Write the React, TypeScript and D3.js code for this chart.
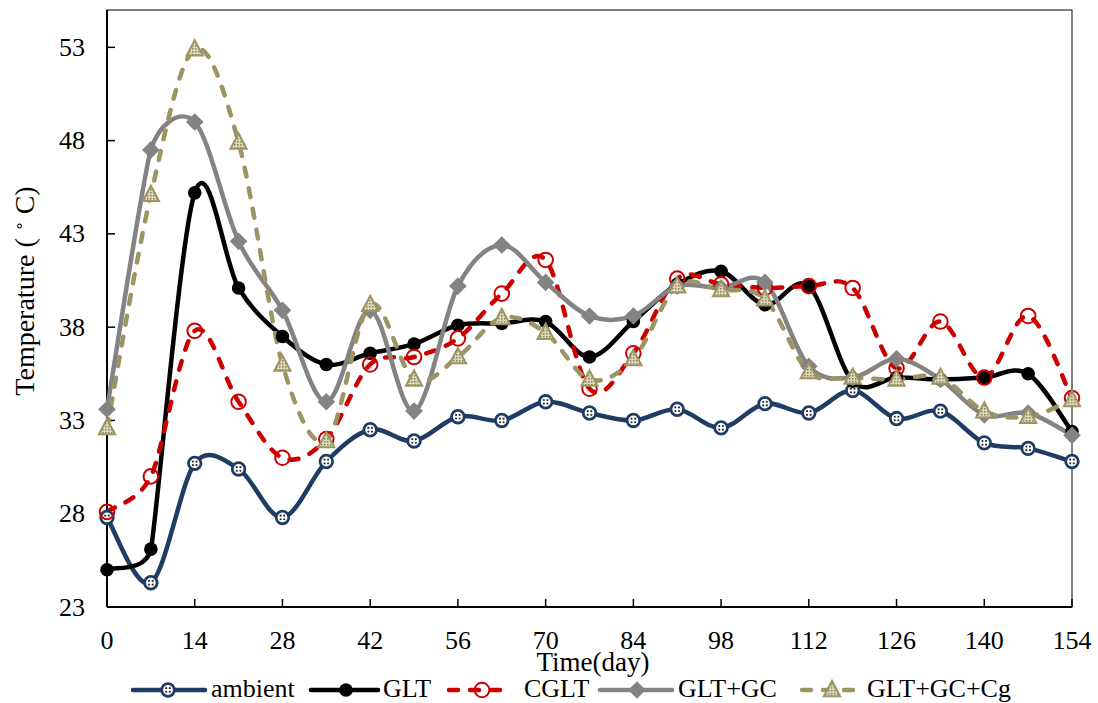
import React from "react";
import * as d3 from "d3";

// Sampling days (weekly)
const days = [0, 7, 14, 21, 28, 35, 42, 49, 56, 63, 70, 77, 84, 91, 98, 105, 112, 119, 126, 133, 140, 147, 154];

const ambient = [27.8, 24.3, 30.7, 30.4, 27.8, 30.8, 32.5, 31.9, 33.2, 33.0, 34.0, 33.4, 33.0, 33.6, 32.6, 33.9, 33.4, 34.6, 33.1, 33.5, 31.8, 31.5, 30.8];
const glt = [25.0, 26.1, 45.2, 40.1, 37.5, 36.0, 36.6, 37.1, 38.1, 38.2, 38.3, 36.4, 38.3, 40.3, 41.0, 39.2, 40.2, 35.1, 35.3, 35.2, 35.3, 35.5, 32.4];
const cglt = [28.1, 30.0, 37.8, 34.0, 31.0, 32.0, 36.0, 36.4, 37.4, 39.8, 41.6, 34.7, 36.6, 40.6, 40.3, 40.1, 40.2, 40.1, 35.8, 38.3, 35.3, 38.6, 34.2];
const gltGc = [33.6, 47.5, 49.0, 42.6, 38.9, 34.0, 38.9, 33.5, 40.2, 42.4, 40.4, 38.6, 38.6, 40.2, 40.1, 40.4, 35.9, 35.3, 36.3, 35.2, 33.3, 33.4, 32.2];
const gltGcCg = [32.6, 45.1, 52.9, 47.9, 36.0, 31.9, 39.2, 35.2, 36.4, 38.5, 37.7, 35.2, 36.3, 40.2, 40.0, 39.5, 35.6, 35.3, 35.2, 35.3, 33.5, 33.2, 34.1];

const xTicks = [0, 14, 28, 42, 56, 70, 84, 98, 112, 126, 140, 154];
const yTicks = [23, 28, 33, 38, 43, 48, 53];

const seriesNames = ["ambient", "GLT", "CGLT", "GLT+GC", "GLT+GC+Cg"];

type Marker = "dotted" | "disc" | "ring" | "diamond" | "triangle";
interface Series {
  name: string;
  values: number[];
  color: string;
  dashed: boolean;
  marker: Marker;
}

const NAVY = "#1f3d64";
const RED = "#cc0000";
const GRAY = "#838383";
const OLIVE = "#9d9463";
const DASH = "9 12";

const series: Series[] = [
  { name: seriesNames[0], values: ambient, color: NAVY, dashed: false, marker: "dotted" },
  { name: seriesNames[1], values: glt, color: "#000000", dashed: false, marker: "disc" },
  { name: seriesNames[2], values: cglt, color: RED, dashed: true, marker: "ring" },
  { name: seriesNames[3], values: gltGc, color: GRAY, dashed: false, marker: "diamond" },
  { name: seriesNames[4], values: gltGcCg, color: OLIVE, dashed: true, marker: "triangle" },
];

const W = 1098;
const H = 703;
const left = 107;
const right = 1072;
const top = 10;
const bottom = 607;

const x = d3.scaleLinear().domain([0, 154]).range([left, right]);
const y = d3.scaleLinear().domain([23, 55]).range([bottom, top]);

const FONT = '"Liberation Serif", "Times New Roman", Times, serif';
const textStyle: React.CSSProperties = { fontFamily: FONT };

// Smoothed line: cubic Bezier segments whose tangent at each point follows
// (next - previous) / 6, with the handle length capped at half of the
// shorter neighbouring segment so short segments do not overshoot.
function smoothPath(values: number[]): string {
  const pts = values.map((v, i) => [x(days[i]), y(v)] as [number, number]);
  const n = pts.length;
  const dist = (a: [number, number], b: [number, number]) => Math.hypot(b[0] - a[0], b[1] - a[1]);
  const handles = pts.map((p, i) => {
    const prev = pts[Math.max(0, i - 1)];
    const next = pts[Math.min(n - 1, i + 1)];
    const tx = next[0] - prev[0];
    const ty = next[1] - prev[1];
    const len = Math.hypot(tx, ty);
    if (len === 0) return [0, 0];
    const dPrev = i > 0 ? dist(prev, p) : Infinity;
    const dNext = i < n - 1 ? dist(p, next) : Infinity;
    const hl = Math.min(len / 6, dPrev / 2, dNext / 2);
    return [(tx / len) * hl, (ty / len) * hl];
  });
  const path = d3.path();
  path.moveTo(pts[0][0], pts[0][1]);
  for (let i = 0; i < n - 1; i++) {
    const p = pts[i];
    const q = pts[i + 1];
    path.bezierCurveTo(p[0] + handles[i][0], p[1] + handles[i][1], q[0] - handles[i + 1][0], q[1] - handles[i + 1][1], q[0], q[1]);
  }
  return path.toString();
}

function MarkerShape({ kind, cx, cy, color }: { kind: Marker; cx: number; cy: number; color: string }) {
  switch (kind) {
    case "dotted":
      return (
        <g>
          <circle cx={cx} cy={cy} r={6.3} fill="#ffffff" stroke={color} strokeWidth={2.8} />
          <circle cx={cx - 1.8} cy={cy - 1.8} r={1.1} fill="#333" />
          <circle cx={cx + 1.8} cy={cy - 1.8} r={1.1} fill="#333" />
          <circle cx={cx - 1.8} cy={cy + 1.8} r={1.1} fill="#333" />
          <circle cx={cx + 1.8} cy={cy + 1.8} r={1.1} fill="#333" />
        </g>
      );
    case "disc":
      return <circle cx={cx} cy={cy} r={6.8} fill={color} />;
    case "ring":
      return <circle cx={cx} cy={cy} r={7.3} fill="none" stroke={color} strokeWidth={2} />;
    case "diamond": {
      const s = 8.8;
      return <path d={`M${cx},${cy - s}L${cx + s},${cy}L${cx},${cy + s}L${cx - s},${cy}Z`} fill={color} />;
    }
    case "triangle": {
      const s = 9;
      return (
        <path
          d={`M${cx},${cy - s}L${cx + s * 0.9},${cy + s * 0.7}L${cx - s * 0.9},${cy + s * 0.7}Z`}
          fill="url(#hatch)"
          stroke={color}
          strokeWidth={2}
        />
      );
    }
  }
}

export default function App() {
  const legendItems = [
    { lineStart: 133, lineEnd: 205, mark: 168, text: 211 },
    { lineStart: 311, lineEnd: 378, mark: 346, text: 383 },
    { lineStart: 449, lineEnd: 509, mark: 482, text: 524 },
    { lineStart: 600, lineEnd: 672, mark: 637, text: 678 },
    { lineStart: 802, lineEnd: 856, mark: 832, text: 867 },
  ];
  const legendY = 690;

  return (
    <svg width={W} height={H} style={{ position: "absolute", left: 0, top: 0, background: "#fff", fontFamily: FONT }}>
      <defs>
        <pattern id="hatch" width={3} height={3} patternUnits="userSpaceOnUse">
          <rect width={3} height={3} fill="#dcd6ba" />
          <rect width={1.5} height={1.5} fill="#8a8258" />
        </pattern>
      </defs>

      {/* frame */}
      <rect x={left} y={top} width={right - left} height={bottom - top} fill="none" stroke="#000" strokeWidth={1} />
      <line x1={left} x2={left} y1={top} y2={bottom} stroke="#000" strokeWidth={2} />
      <line x1={left} x2={right} y1={bottom} y2={bottom} stroke="#000" strokeWidth={2} />

      {/* y axis ticks and labels */}
      {yTicks.map((t) => (
        <g key={`y${t}`}>
          <line x1={left} x2={left + 8} y1={y(t)} y2={y(t)} stroke="#000" strokeWidth={1.5} />
          <text x={85} y={y(t)} dy="0.33em" textAnchor="end" fontSize={26} style={textStyle}>
            {t}
          </text>
        </g>
      ))}

      {/* x axis ticks and labels */}
      {xTicks.map((t) => (
        <g key={`x${t}`}>
          <line x1={x(t)} x2={x(t)} y1={bottom} y2={bottom - 8} stroke="#000" strokeWidth={1.5} />
          <text x={x(t)} y={649} textAnchor="middle" fontSize={26} style={textStyle}>
            {t}
          </text>
        </g>
      ))}

      {/* axis titles */}
      <text x={593} y={671} textAnchor="middle" fontSize={27} style={textStyle}>
        Time(day)
      </text>
      <text transform="translate(34,291) rotate(-90)" textAnchor="middle" fontSize={28} style={textStyle}>
        {"Temperature ( "}
        <tspan fontSize={16} dy={-9}>
          {"\u2218"}
        </tspan>
        <tspan dy={9}>{" C)"}</tspan>
      </text>

      {/* series lines */}
      {series.map((s) => (
        <path
          key={`l-${s.name}`}
          d={smoothPath(s.values)}
          fill="none"
          stroke={s.color}
          strokeWidth={4.5}
          strokeDasharray={s.dashed ? DASH : undefined}
          strokeLinecap={s.dashed ? "round" : "butt"}
          strokeLinejoin="round"
        />
      ))}

      {/* series markers */}
      {series.map((s) => (
        <g key={`m-${s.name}`}>
          {s.values.map((v, i) => (
            <MarkerShape key={i} kind={s.marker} cx={x(days[i])} cy={y(v)} color={s.color} />
          ))}
        </g>
      ))}

      {/* legend */}
      {series.map((s, i) => {
        const it = legendItems[i];
        return (
          <g key={`lg-${s.name}`}>
            <line
              x1={it.lineStart}
              x2={it.lineEnd}
              y1={legendY}
              y2={legendY}
              stroke={s.color}
              strokeWidth={4.5}
              strokeDasharray={s.dashed ? DASH : undefined}
              strokeLinecap="round"
            />
            <MarkerShape kind={s.marker} cx={it.mark} cy={legendY} color={s.color} />
            <text x={it.text} y={697} fontSize={26} style={textStyle}>
              {s.name}
            </text>
          </g>
        );
      })}
    </svg>
  );
}
